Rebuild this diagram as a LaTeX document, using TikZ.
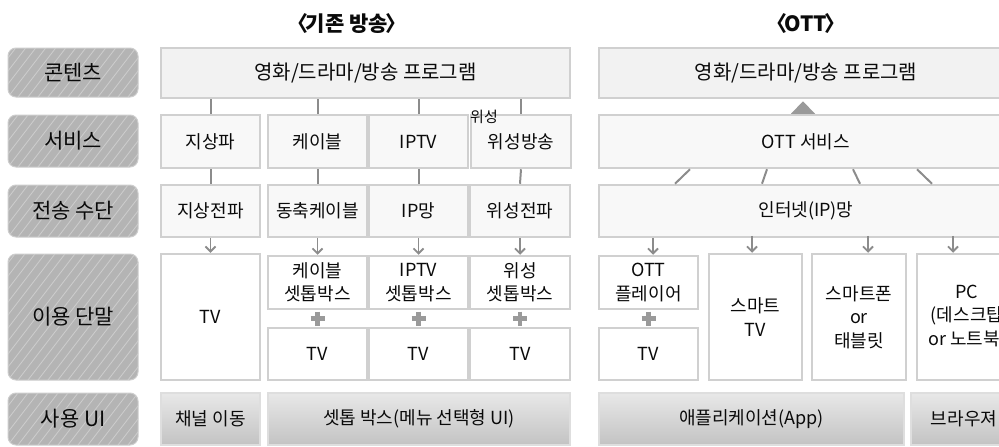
\documentclass[tikz,border=0pt]{standalone}
\usepackage{fontspec}
\setmainfont{Noto Sans CJK KR}
\usetikzlibrary{arrows.meta,calc}

\definecolor{boxline}{HTML}{D0D0D0}
\definecolor{contfill}{HTML}{F2F2F2}
\definecolor{svcfill}{HTML}{F8F8F8}
\definecolor{lblfill}{HTML}{B4B4B4}
\definecolor{lblstripe}{HTML}{CDCDCD}
\definecolor{linkgray}{HTML}{8C8C8C}
\definecolor{plusgray}{HTML}{9A9A9A}
\definecolor{uitop}{HTML}{E8E8E8}
\definecolor{uibot}{HTML}{C3C3C3}
\definecolor{txt}{HTML}{0A0A0A}

\begin{document}
\begin{tikzpicture}[x=1pt,y=-1pt,>={Straight Barb[length=5pt,width=10pt]}]
			\tikzstyle{cell}=[draw=boxline,line width=2.5pt,fill=white,inner sep=0pt,align=center,text=txt,font=\fontsize{18}{23.5}\selectfont]
			\tikzstyle{contbox}=[cell,fill=contfill,minimum height=50,font=\fontsize{20}{22}\selectfont]
			\tikzstyle{svcbox}=[cell,fill=svcfill]
			\tikzstyle{uibox}=[cell,draw=boxline!70,top color=uitop,bottom color=uibot,minimum height=52]
			\tikzstyle{lbl}=[draw=lblstripe,line width=1pt,fill=lblfill,rounded corners=8pt,minimum width=130,inner sep=0pt,text=txt,font=\fontsize{21}{24}\selectfont,
				path picture={
					\foreach \i in {-130,-120,...,130}
						\draw [lblstripe,line width=0.8pt] ($(path picture bounding box.south west)+(\i,0)$) -- ++(100,-130);
				}]
			\tikzstyle{title}=[text=txt,font=\fontsize{21}{24}\selectfont\bfseries]
			\tikzstyle{link}=[linkgray,line width=2pt]
			\tikzstyle{arr}=[linkgray,line width=1.8pt,->]
			\tikzstyle{plus}=[plusgray,line width=4.5pt]

			\useasboundingbox (0,0) rectangle (999,447);
			\clip (0,0) rectangle (999,447);

			% titles
			\node [title] (head1) at (347,24) {〈\kern-0.12em 기존 방송\kern-0.12em〉};
			\node [title] (head2) at (806,24) {〈\kern-0.12em OTT\kern-0.12em〉};

			% row labels
			\node [lbl, minimum height=49] (lcont) at (73,72.5) {콘텐츠};
			\node [lbl, minimum height=52] (lsvc) at (73,141) {서비스};
			\node [lbl, minimum height=52] (lnet) at (73,211) {전송 수단};
			\node [lbl, minimum height=126] (ldev) at (73,317) {이용 단말};
			\node [lbl, minimum height=52] (lui) at (73,419) {사용 UI};

			% broadcast side
			\node [contbox, minimum width=409] (cont) at (365.5,73) {영화/드라마/방송 프로그램};

			\node [svcbox, minimum width=99, minimum height=53] (sA) at (210.5,141.5) {지상파};
			\node [svcbox, minimum width=99, minimum height=53] (sB) at (317.5,141.5) {케이블};
			\node [svcbox, minimum width=99, minimum height=53] (sC) at (418.5,141.5) {IPTV};
			\node [svcbox, minimum width=100, minimum height=53] (sD) at (521,141.5) {위성방송};
			\node [anchor=north west, inner sep=0pt, text=txt, font=\fontsize{15}{15}\selectfont] (sDtag) at (470,110) {위성};

			\node [svcbox, minimum width=99, minimum height=52] (rA) at (210.5,211) {지상전파};
			\node [svcbox, minimum width=99, minimum height=52] (rB) at (317.5,211) {동축케이블};
			\node [svcbox, minimum width=99, minimum height=52] (rC) at (418.5,211) {IP망};
			\node [svcbox, minimum width=100, minimum height=52] (rD) at (520,211) {위성전파};

			\node [cell, minimum width=99, minimum height=126] (dA) at (210.5,317) {TV};
			\node [cell, minimum width=99, minimum height=53] (dB) at (317.5,282.5) {케이블\\셋톱박스};
			\node [cell, minimum width=99, minimum height=53] (dC) at (418.5,282.5) {IPTV\\셋톱박스};
			\node [cell, minimum width=100, minimum height=53] (dD) at (520,282.5) {위성\\셋톱박스};
			\node [cell, minimum width=99, minimum height=52] (tB) at (317.5,354) {TV};
			\node [cell, minimum width=99, minimum height=52] (tC) at (418.5,354) {TV};
			\node [cell, minimum width=100, minimum height=52] (tD) at (520,354) {TV};

			\node [uibox, minimum width=99] (uA) at (210.5,419) {채널 이동};
			\node [uibox, minimum width=302] (uB) at (419,419) {셋톱 박스(메뉴 선택형 UI)};

			\foreach \c in {A,B,C,D} {
				\draw [link] (s\c.north |- cont.south) -- (s\c.north);
				\draw [link] (s\c.south) -- (r\c.north);
				\draw [arr] (r\c.south) -- (d\c.north);
			}
			\foreach \c in {B,C,D}
				\draw [plus] ($(d\c.south)!0.5!(t\c.north)+(-7,0)$) -- ++(14,0) ($(d\c.south)!0.5!(t\c.north)+(0,-7)$) -- ++(0,14);

			% OTT side
			\node [contbox, minimum width=414] (ocont) at (806,73) {영화/드라마/방송 프로그램};
			\node [svcbox, minimum width=414, minimum height=53] (osvc) at (806,141.5) {OTT 서비스};
			\node [svcbox, minimum width=414, minimum height=52] (onet) at (806,211) {인터넷(IP)망};

			\node [cell, minimum width=99, minimum height=53] (e1) at (648.5,282.5) {OTT\\플레이어};
			\node [cell, minimum width=99, minimum height=52] (e1tv) at (648.5,354) {TV};
			\node [cell, minimum width=93, minimum height=126] (e2) at (755.5,317) {스마트\\TV};
			\node [cell, minimum width=94, minimum height=126] (e3) at (859,317) {스마트폰\\or\\태블릿};
			\node [cell, minimum width=100, minimum height=126] (e4) at (967,317) {PC\\(데스크탑\\or 노트북)};

			\node [uibox, minimum width=305] (ua) at (751.5,419) {애플리케이션(App)};
			\node [uibox, minimum width=106] (ub) at (964,419) {브라우져};

			\fill [plusgray] ($(osvc.north)+(-15,0)$) -- ($(ocont.south)+(-3,2)$) -- ($(osvc.north)+(9,0)$) -- cycle;

			\draw [link] ($(osvc.south)+(-116,0)$) -- ($(onet.north)+(-131,0)$);
			\draw [link] ($(osvc.south)+(-39,0)$) -- ($(onet.north)+(-44,0)$);
			\draw [link] ($(osvc.south)+(47,0)$) -- ($(onet.north)+(54,0)$);
			\draw [link] ($(osvc.south)+(111,0)$) -- ($(onet.north)+(126,0)$);

			\draw [arr] ($(e1.north)+(4.5,-17)$) -- ($(e1.north)+(4.5,0)$);
			\draw [arr] ($(e2.north)+(-3.5,-17)$) -- ($(e2.north)+(-3.5,0)$);
			\draw [arr] ($(e3.north)+(9,-17)$) -- ($(e3.north)+(9,0)$);
			\draw [arr] ($(e4.north)+(-14,-17)$) -- ($(e4.north)+(-14,0)$);

			\draw [plus] ($(e1.south)!0.5!(e1tv.north)+(-7,0)$) -- ++(14,0) ($(e1.south)!0.5!(e1tv.north)+(0,-7)$) -- ++(0,14);
		\end{tikzpicture}
\end{document}
